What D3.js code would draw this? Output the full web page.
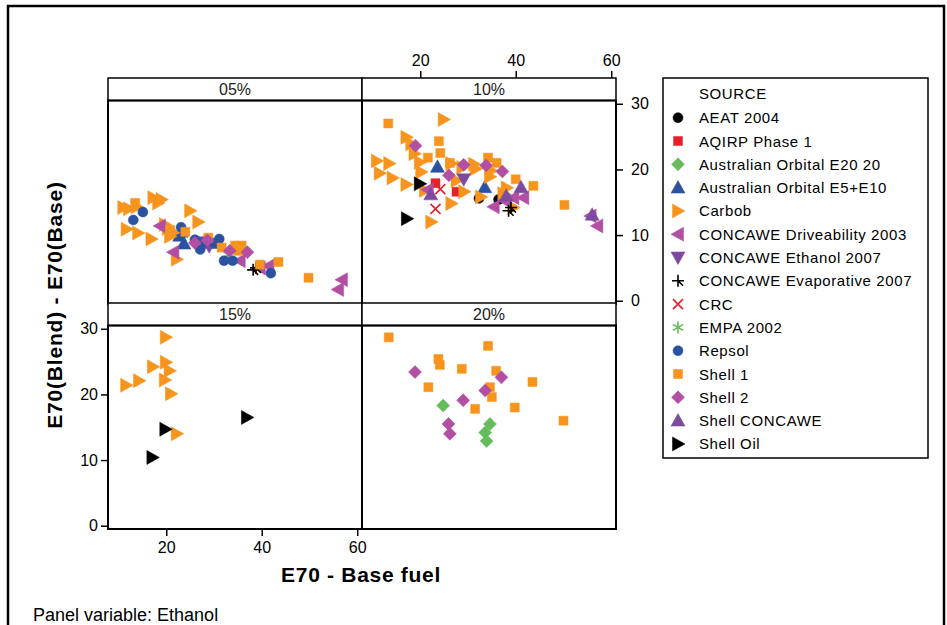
<!DOCTYPE html>
<html>
<head>
<meta charset="utf-8">
<script src="https://cdn.jsdelivr.net/npm/d3@7"></script>
<style>
  body { margin: 0; background: #fff; }
  svg { font-family: 'Liberation Sans', Arial, sans-serif; }
</style>
</head>
<body>
<div class="chart"></div>
<script>
// panels and sources
const panels = ['05%', '10%', '15%', '20%'];
const sources = [
  'AEAT 2004', 'AQIRP Phase 1', 'Australian Orbital E20 20', 'Australian Orbital E5+E10',
  'Carbob', 'CONCAWE Driveability 2003', 'CONCAWE Ethanol 2007', 'CONCAWE Evaporative 2007',
  'CRC', 'EMPA 2002', 'Repsol', 'Shell 1', 'Shell 2', 'Shell CONCAWE', 'Shell Oil',
];
const xTicks = [20, 40, 60];
const yTicks = [0, 10, 20, 30];

// points per source: [panel, E70 base, E70 blend - E70 base]
const aeat2004 = [['10%', 32.3, 15.6], ['10%', 36.4, 15.4]];
const aqirp = [['10%', 23.2, 17.9], ['10%', 27.6, 16.6]];
const ausOrbitalE20 = [['20%', 24.8, 18.3], ['20%', 34.6, 15.5], ['20%', 33.6, 14.2], ['20%', 33.9, 12.9]];
const ausOrbitalE5E10 = [
  ['05%', 23.1, 10.5], ['05%', 23.7, 8.7], ['05%', 22.8, 9.9], ['05%', 29.5, 8.8],
  ['10%', 23.6, 20.4], ['10%', 33.5, 17.3],
];
const carbob = [
  ['05%', 11.0, 14.2], ['05%', 12.2, 14.0], ['05%', 13.8, 14.3], ['05%', 17.3, 15.7], ['05%', 18.3, 14.9],
  ['05%', 19.0, 15.4], ['05%', 25.0, 13.7], ['05%', 26.7, 12.0], ['05%', 11.7, 10.9], ['05%', 14.1, 10.3],
  ['05%', 16.9, 9.4], ['05%', 19.7, 11.6], ['05%', 20.8, 9.8], ['05%', 21.5, 10.4], ['05%', 22.2, 6.3],
  ['05%', 20.3, 11.0],
  ['10%', 24.9, 27.6], ['10%', 10.9, 21.3], ['10%', 13.5, 20.9], ['10%', 11.5, 19.4], ['10%', 14.2, 18.7],
  ['10%', 17.1, 24.9], ['10%', 18.1, 23.9], ['10%', 18.8, 22.4], ['10%', 19.9, 21.1], ['10%', 20.2, 19.6],
  ['10%', 17.1, 17.7], ['10%', 21.0, 16.8], ['10%', 26.5, 20.9], ['10%', 28.8, 20.3], ['10%', 31.3, 20.8],
  ['10%', 31.6, 20.1], ['10%', 29.2, 16.6], ['10%', 26.5, 14.8], ['10%', 22.3, 12.0], ['10%', 32.7, 15.8],
  ['10%', 34.6, 18.9], ['10%', 34.9, 19.8], ['10%', 38.1, 17.2], ['10%', 37.4, 16.3], ['10%', 39.5, 14.2],
  ['10%', 27.6, 18.3],
  ['15%', 19.9, 28.7], ['15%', 19.9, 24.9], ['15%', 20.7, 23.6], ['15%', 19.7, 22.2], ['15%', 17.2, 24.2],
  ['15%', 14.3, 22.1], ['15%', 11.6, 21.4], ['15%', 21.0, 20.1], ['15%', 22.2, 14.0],
];
const concaweDrive = [
  ['05%', 18.7, 11.4], ['05%', 21.5, 7.4], ['05%', 35.4, 6.1], ['05%', 41.4, 5.3], ['05%', 39.6, 5.0],
  ['05%', 56.8, 3.2], ['05%', 56.0, 1.7],
  ['10%', 21.6, 16.9], ['10%', 35.4, 14.3], ['10%', 39.5, 15.7], ['10%', 41.6, 15.7], ['10%', 57.1, 11.4],
  ['10%', 55.7, 12.9], ['10%', 37.8, 15.2],
];
const concaweEthanol = [['05%', 29.0, 8.3], ['05%', 27.8, 8.9], ['10%', 29.1, 18.5]];
const concaweEvap = [['05%', 38.2, 4.7], ['05%', 38.8, 5.0], ['10%', 38.5, 13.7], ['10%', 39.0, 14.2]];
const crc = [['10%', 24.2, 17.0], ['10%', 23.2, 14.0]];
const empa2002 = [['05%', 33.1, 7.0]];
const repsol = [
  ['05%', 13.1, 12.3], ['05%', 15.1, 13.5], ['05%', 23.1, 11.2], ['05%', 26.0, 9.3], ['05%', 27.1, 7.8],
  ['05%', 28.1, 9.0], ['05%', 31.1, 9.4], ['05%', 32.1, 6.1], ['05%', 33.9, 6.1], ['05%', 41.9, 4.2],
  ['05%', 30.0, 8.8],
];
const shell1 = [
  ['05%', 13.5, 14.9], ['05%', 20.8, 10.8], ['05%', 24.0, 10.5], ['05%', 28.8, 9.6], ['05%', 31.6, 8.1],
  ['05%', 34.4, 8.4], ['05%', 35.8, 8.4], ['05%', 35.1, 7.6], ['05%', 39.6, 5.5], ['05%', 43.5, 5.9],
  ['05%', 49.8, 3.5],
  ['10%', 13.3, 27.0], ['10%', 23.9, 24.3], ['10%', 24.2, 22.5], ['10%', 21.6, 21.8], ['10%', 34.2, 21.8],
  ['10%', 36.0, 21.0], ['10%', 40.0, 18.5], ['10%', 43.7, 17.5], ['10%', 50.2, 14.6], ['10%', 26.2, 21.0],
  ['20%', 13.4, 28.7], ['20%', 23.8, 25.4], ['20%', 24.1, 24.5], ['20%', 28.7, 23.9], ['20%', 34.2, 27.4],
  ['20%', 35.9, 23.6], ['20%', 43.5, 21.9], ['20%', 21.7, 21.1], ['20%', 34.6, 21.1], ['20%', 35.0, 19.6],
  ['20%', 39.8, 18.0], ['20%', 31.5, 17.8], ['20%', 50.0, 16.0],
];
const shell2 = [
  ['05%', 26.0, 8.8], ['05%', 28.6, 9.2], ['05%', 33.3, 7.6], ['05%', 37.0, 7.4],
  ['10%', 19.0, 23.6], ['10%', 26.0, 19.1], ['10%', 29.1, 20.7], ['10%', 33.8, 20.6], ['10%', 37.2, 19.7],
  ['20%', 18.9, 23.4], ['20%', 37.0, 22.6], ['20%', 33.6, 20.6], ['20%', 29.0, 19.1], ['20%', 25.9, 15.5],
  ['20%', 26.2, 14.0],
];
const shellConcawe = [['10%', 22.2, 16.2], ['10%', 41.1, 17.3], ['10%', 56.0, 13.1], ['10%', 38.0, 16.0]];
const shellOil = [
  ['10%', 19.9, 17.8], ['10%', 17.2, 12.5],
  ['15%', 19.8, 14.7], ['15%', 17.1, 10.4], ['15%', 36.9, 16.5],
];

const sourceData = [
  aeat2004, aqirp, ausOrbitalE20, ausOrbitalE5E10, carbob, concaweDrive, concaweEthanol,
  concaweEvap, crc, empa2002, repsol, shell1, shell2, shellConcawe, shellOil,
];

const orange = '#F7941E';
const colors = ['#000', '#E8202A', '#66BB5A', '#2A52A0', orange, '#B34FA3', '#7D4A9E',
  '#000', '#E8202A', '#66BB5A', '#2A52A0', orange, '#B34FA3', '#7D4A9E', '#000'];

// marker shapes
const sym = {
  circle: 'M5,0A5,5 0 1,1 -5,0A5,5 0 1,1 5,0Z',
  square: 'M-4.5,-4.5H4.5V4.5H-4.5Z',
  diamond: 'M0,-6.5L6.5,0L0,6.5L-6.5,0Z',
  up: 'M0,-7L7,5.5L-7,5.5Z',
  down: 'M0,7L7,-5.5L-7,-5.5Z',
  right: 'M7,0L-5.5,-7L-5.5,7Z',
  left: 'M-7,0L5.5,-7L5.5,7Z',
  plus: 'M-6,0H6M0,-6V6M0,0L5,5',
  x: 'M-5,-5L5,5M5,-5L-5,5',
  star: 'M0,-6V6M-5.2,-3L5.2,3M-5.2,3L5.2,-3',
};
const shapes = ['circle', 'square', 'diamond', 'up', 'right', 'left', 'down', 'plus', 'x', 'star',
  'circle', 'square', 'diamond', 'up', 'right'];
const lineShapes = ['plus', 'x', 'star'];

const width = 947;
const height = 625;
const colLeft = [108, 362];
const rowTop = [78, 303];
const panelW = 254;
const stripH = 22.5;
const plotH = 203.5;

const svg = d3.select('.chart').append('svg').attr('width', width).attr('height', height);

svg.append('rect').attr('x', 8).attr('y', 6).attr('width', 936).attr('height', 650)
  .attr('fill', 'none').attr('stroke', '#000').attr('stroke-width', 2.5);

const x = d3.scaleLinear().domain([7.8, 61]).range([0, panelW]);
const y = d3.scaleLinear().domain([-0.5, 30.5]).range([plotH, 0]);

const panelPos = (p) => {
  const i = panels.indexOf(p);
  return { px: colLeft[i % 2], py: rowTop[Math.floor(i / 2)] + stripH };
};

// panels
panels.forEach((p) => {
  const { px, py } = panelPos(p);
  const g = svg.append('g').attr('transform', `translate(${px},${py - stripH})`);
  g.append('rect').attr('width', panelW).attr('height', stripH)
    .attr('fill', '#fff').attr('stroke', '#000').attr('stroke-width', 1.5);
  g.append('text').attr('x', panelW / 2).attr('y', stripH / 2 + 6)
    .attr('text-anchor', 'middle').style('font-size', '16px').attr('fill', '#222').text(p);
  g.append('rect').attr('y', stripH).attr('width', panelW).attr('height', plotH)
    .attr('fill', 'none').attr('stroke', '#000').attr('stroke-width', 2);
});

const pts = svg.append('g');
sourceData.forEach((arr, si) => {
  arr.forEach((d) => {
    const { px, py } = panelPos(d[0]);
    const line = lineShapes.includes(shapes[si]);
    pts.append('path')
      .attr('d', sym[shapes[si]])
      .attr('transform', `translate(${px + x(d[1])},${py + y(d[2])})`)
      .attr('fill', line ? 'none' : colors[si])
      .attr('stroke', colors[si])
      .attr('stroke-width', line ? 1.6 : 0.5);
  });
});

// axes
const tickFont = '16px';
// bottom (left column)
const bx = svg.append('g').attr('transform', `translate(${colLeft[0]},${rowTop[1] + stripH + plotH})`);
bx.call(d3.axisBottom(x).tickValues(xTicks).tickSize(7).tickPadding(6).tickSizeOuter(0));
// top (right column)
const tx = svg.append('g').attr('transform', `translate(${colLeft[1]},${rowTop[0]})`);
tx.call(d3.axisTop(x).tickValues(xTicks).tickSize(7).tickPadding(5).tickSizeOuter(0));
// left (bottom row)
const ly = svg.append('g').attr('transform', `translate(${colLeft[0]},${rowTop[1] + stripH})`);
ly.call(d3.axisLeft(y).tickValues(yTicks).tickSize(7).tickPadding(3).tickSizeOuter(0));
// right (top row)
const ry = svg.append('g').attr('transform', `translate(${colLeft[1] + panelW},${rowTop[0] + stripH})`);
ry.call(d3.axisRight(y).tickValues(yTicks).tickSize(7).tickPadding(8).tickSizeOuter(0));

[bx, tx, ly, ry].forEach((a) => {
  a.select('.domain').remove();
  a.selectAll('line').attr('stroke-width', 1.5);
  a.selectAll('text').style('font-size', tickFont).style('font-family', 'Liberation Sans, Arial, sans-serif')
    .attr('fill', '#000');
});

svg.append('text').attr('x', 361).attr('y', 582).attr('text-anchor', 'middle')
  .style('font-size', '21px').style('font-weight', 'bold').style('letter-spacing', '0.7px')
  .text('E70 - Base fuel');
svg.append('text').attr('transform', 'translate(62,305) rotate(-90)').attr('text-anchor', 'middle')
  .style('font-size', '21px').style('font-weight', 'bold').style('letter-spacing', '0.8px')
  .text('E70(Blend) - E70(Base)');
svg.append('text').attr('x', 33).attr('y', 621).style('font-size', '18px').text('Panel variable: Ethanol');

// legend
const lg = svg.append('g').attr('transform', 'translate(663,78)');
lg.append('rect').attr('width', 265).attr('height', 380)
  .attr('fill', '#fff').attr('stroke', '#000').attr('stroke-width', 1.5);
lg.append('text').attr('x', 36).attr('y', 21).style('font-size', '15px')
  .style('letter-spacing', '0.6px').text('SOURCE');
sources.forEach((s, i) => {
  const cy = 39.7 + i * 23.3;
  const line = lineShapes.includes(shapes[i]);
  lg.append('path').attr('d', sym[shapes[i]]).attr('transform', `translate(15,${cy})`)
    .attr('fill', line ? 'none' : colors[i]).attr('stroke', colors[i])
    .attr('stroke-width', line ? 1.6 : 0.5);
  lg.append('text').attr('x', 36).attr('y', cy + 5.5).style('font-size', '15px')
    .style('letter-spacing', '0.6px').text(s);
});
</script>
</body>
</html>
